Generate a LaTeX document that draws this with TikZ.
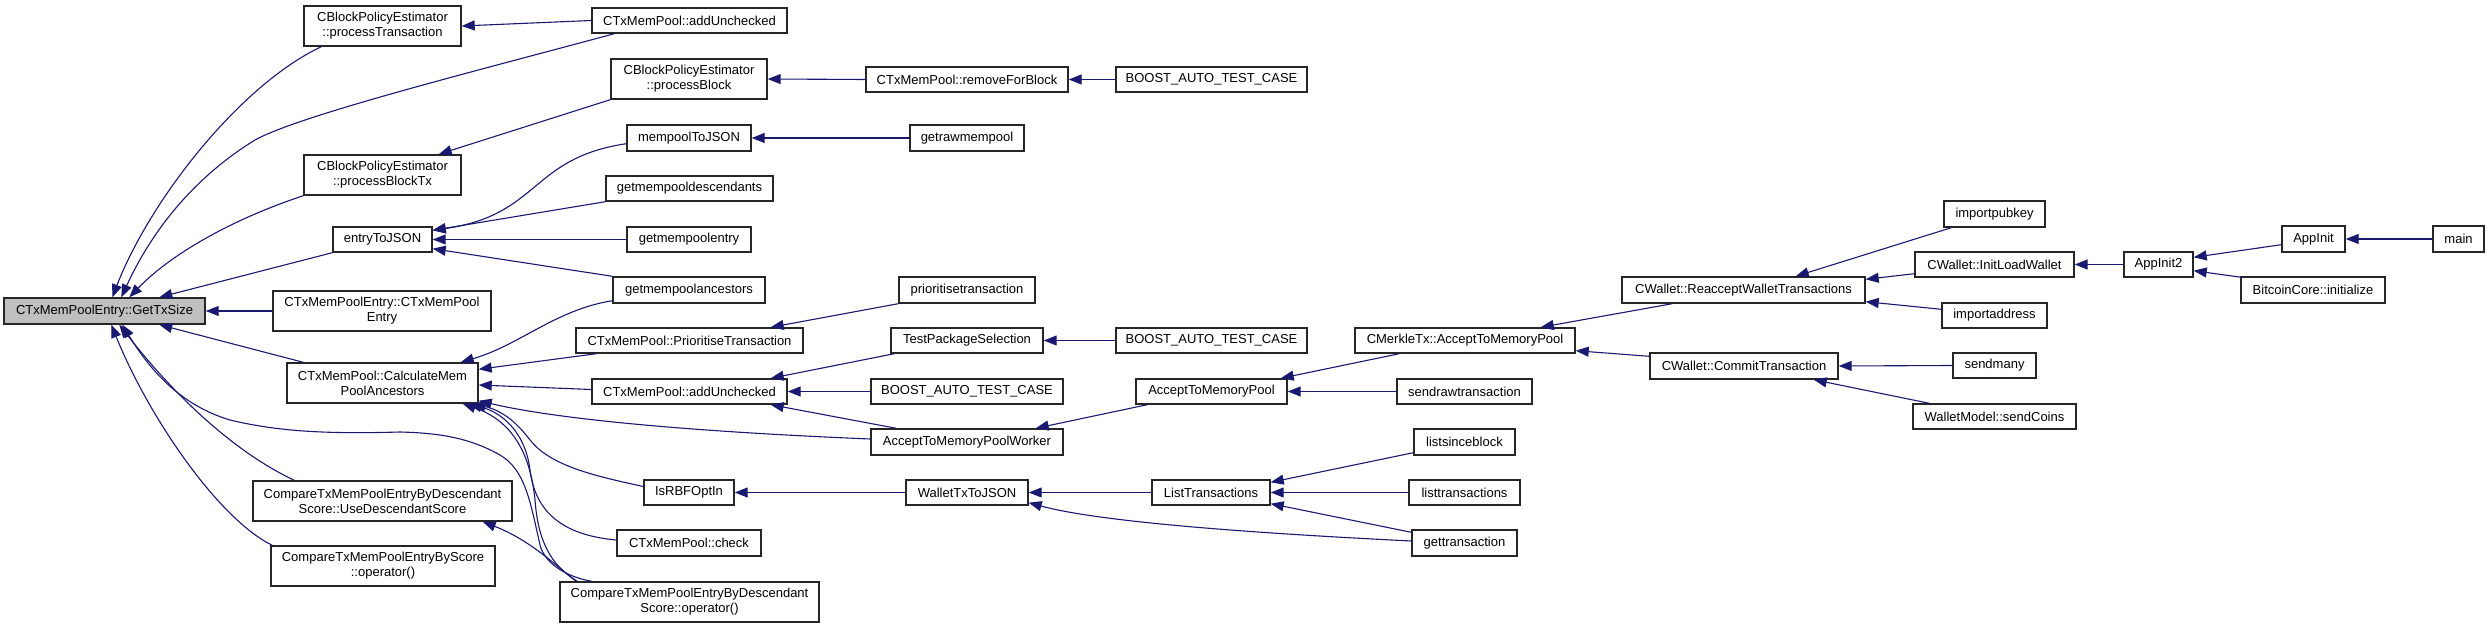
\documentclass[tikz,border=0pt]{standalone}
\usepackage{fontspec}
\setmainfont{Liberation Sans}
\usetikzlibrary{arrows.meta,calc}
\definecolor{edgeblue}{HTML}{191970}
\definecolor{rootgray}{HTML}{BFBFBF}
\tikzset{
  nbox/.style={draw=black!85, line width=1.4pt, fill=white, inner sep=0pt, align=center,
    font=\fontsize{13}{15}\selectfont},
  edge/.style={draw=edgeblue, line width=1.1pt, -{Triangle[length=13pt,width=10pt]}},
}
\newcommand\nb[7][]{\node[nbox,#1,minimum width={(#5)-(#3)},minimum height={(#6)-(#4)}] (#2) at ({((#3)+(#5))/2},{((#4)+(#6))/2}) {#7};}
\begin{document}
\begin{tikzpicture}[x=1pt,y=-1pt]
\useasboundingbox (0,0) rectangle (2489,628);
% nodes
\nb[fill=rootgray]{gts}{4}{298}{205}{324}{CTxMemPoolEntry::GetTxSize}
\nb{ptx}{304}{6}{461}{46}{CBlockPolicyEstimator\\::processTransaction}
\nb{au1}{592}{8}{787}{33}{CTxMemPool::addUnchecked}
\nb{pbk}{611}{59}{767}{99}{CBlockPolicyEstimator\\::processBlock}
\nb{rfb}{866}{67}{1068}{92}{CTxMemPool::removeForBlock}
\nb{bo1}{1116}{67}{1307}{92}{BOOST\_AUTO\_TEST\_CASE}
\nb{pbt}{304}{155}{461}{195}{CBlockPolicyEstimator\\::processBlockTx}
\nb{m2j}{627}{125}{751}{151}{mempoolToJSON}
\nb{grm}{910}{125}{1024}{151}{getrawmempool}
\nb{gmd}{606}{176}{773}{201}{getmempooldescendants}
\nb{e2j}{333}{227}{432}{252}{entryToJSON}
\nb{gme}{627}{227}{751}{252}{getmempoolentry}
\nb{gma}{613}{277}{765}{303}{getmempoolancestors}
\nb{pri}{899}{277}{1035}{303}{prioritisetransaction}
\nb{ctor}{273}{291}{491}{331}{CTxMemPoolEntry::CTxMemPool\\Entry}
\nb{prt}{576}{328}{803}{353}{CTxMemPool::PrioritiseTransaction}
\nb{tps}{891}{328}{1043}{353}{TestPackageSelection}
\nb{bo2}{1116}{328}{1307}{353}{BOOST\_AUTO\_TEST\_CASE}
\nb{cmx}{1355}{328}{1575}{353}{CMerkleTx::AcceptToMemoryPool}
\nb{cal}{287}{363}{478}{403}{CTxMemPool::CalculateMem\\PoolAncestors}
\nb{au2}{592}{379}{787}{404}{CTxMemPool::addUnchecked}
\nb{bo3}{871}{379}{1063}{404}{BOOST\_AUTO\_TEST\_CASE}
\nb{atm}{1136}{379}{1287}{404}{AcceptToMemoryPool}
\nb{srt}{1397}{379}{1532}{404}{sendrawtransaction}
\nb{atw}{871}{429}{1063}{455}{AcceptToMemoryPoolWorker}
\nb{lsb}{1414}{429}{1515}{455}{listsinceblock}
\nb{rbf}{644}{480}{734}{505}{IsRBFOptIn}
\nb{w2j}{906}{480}{1028}{505}{WalletTxToJSON}
\nb{ltx}{1152}{480}{1270}{505}{ListTransactions}
\nb{ltr}{1409}{480}{1520}{505}{listtransactions}
\nb{uds}{253}{481}{512}{521}{CompareTxMemPoolEntryByDescendant\\Score::UseDescendantScore}
\nb{chk}{617}{530}{761}{556}{CTxMemPool::check}
\nb{gtx}{1412}{530}{1517}{556}{gettransaction}
\nb{sco}{271}{546}{495}{586}{CompareTxMemPoolEntryByScore\\::operator()}
\nb{dso}{560}{582}{819}{622}{CompareTxMemPoolEntryByDescendant\\Score::operator()}
\nb{rwt}{1622}{277}{1865}{303}{CWallet::ReacceptWalletTransactions}
\nb{cmt}{1650}{353}{1838}{379}{CWallet::CommitTransaction}
\nb{ipk}{1944}{201}{2045}{227}{importpubkey}
\nb{ilw}{1915}{252}{2074}{277}{CWallet::InitLoadWallet}
\nb{iad}{1942}{303}{2047}{328}{importaddress}
\nb{smn}{1953}{353}{2036}{378}{sendmany}
\nb{wsc}{1913}{404}{2076}{429}{WalletModel::sendCoins}
\nb{ai2}{2124}{252}{2193}{277}{AppInit2}
\nb{ain}{2282}{226}{2345}{252}{AppInit}
\nb{bci}{2241}{277}{2385}{303}{BitcoinCore::initialize}
\nb{mai}{2433}{226}{2484}{252}{main}
% edges into GetTxSize
\draw[edge] ($(ptx.south west)+(18,0)$) .. controls (240,85) and (150,200) .. ($(gts.north west)+(109,0)$);
\draw[edge] ($(au1.south west)+(23,0)$) .. controls (480,70) and (300,115) .. (255,140) .. controls (190,180) and (150,235) .. ($(gts.north west)+(118,0)$);
\draw[edge] (pbt.south west) .. controls (230,220) and (170,255) .. ($(gts.north west)+(126,0)$);
\draw[edge] (e2j.south west) -- ($(gts.north west)+(156,0)$);
\draw[edge] (ctor.west) -- (gts.east);
\draw[edge] ($(cal.north west)+(17,0)$) -- ($(gts.south west)+(156,0)$);
\draw[edge] ($(dso.north west)+(33,0)$) .. controls (570,578) and (545,565) .. (540,545) .. controls (530,500) and (525,470) .. (500,455) .. controls (470,438) and (440,433) .. (400,432) .. controls (330,434) and (280,432) .. (230,420) .. controls (180,405) and (150,370) .. ($(gts.south west)+(119,0)$);
\draw[edge] ($(uds.north west)+(42,0)$) .. controls (230,450) and (170,390) .. ($(gts.south west)+(116,0)$);
\draw[edge] ($(sco.north west)+(2,0)$) .. controls (220,520) and (150,420) .. ($(gts.south west)+(108,0)$);
% column 2/3
\draw[edge] (au1.west) -- (ptx.east);
\draw[edge] (pbk.south west) -- ($(pbt.north east)+(-23,0)$);
\draw[edge] (rfb.west) -- (pbk.east);
\draw[edge] (bo1.west) -- (rfb.east);
\draw[edge] ($(m2j.south west)+(0,-8)$) .. controls (530,158) and (540,215) .. ($(e2j.north east)+(0,4)$);
\draw[edge] (gmd.south west) -- ($(e2j.north east)+(0,4)$);
\draw[edge] (gme.west) -- (e2j.east);
\draw[edge] (gma.north west) -- ($(e2j.south east)+(0,-4)$);
\draw[edge] (grm.west) -- (m2j.east);
\draw[edge] ($(gma.south west)+(0,-3)$) .. controls (555,310) and (520,345) .. ($(cal.north east)+(-18,0)$);
\draw[edge] ($(prt.south west)+(21,0)$) -- ($(cal.north east)+(0,7)$);
\draw[edge] ($(au2.west)+(0,-2)$) -- ($(cal.east)+(0,2)$);
\draw[edge] ($(atw.west)+(0,-3)$) .. controls (700,432) and (560,420) .. ($(cal.south east)+(0,-3)$);
\draw[edge] ($(rbf.west)+(0,-6)$) .. controls (590,475) and (550,465) .. (530,440) .. controls (515,420) and (500,410) .. ($(cal.south east)+(-6,0)$);
\draw[edge] ($(chk.west)+(0,-3)$) .. controls (560,535) and (535,510) .. (530,470) .. controls (525,430) and (500,412) .. ($(cal.south east)+(-10,0)$);
\draw[edge] ($(dso.north west)+(18,0)$) .. controls (550,565) and (538,540) .. (535,500) .. controls (530,450) and (510,420) .. ($(cal.south east)+(-16,0)$);
\draw[edge] ($(dso.north west)+(17,0)$) .. controls (555,565) and (530,540) .. ($(uds.south east)+(-30,0)$);
% column 4/5
\draw[edge] (pri.south west) -- ($(prt.north east)+(-33,0)$);
\draw[edge] ($(tps.south west)+(4,0)$) -- ($(au2.north east)+(-17,0)$);
\draw[edge] (bo3.west) -- (au2.east);
\draw[edge] ($(atw.north west)+(26,0)$) -- ($(au2.south east)+(-17,0)$);
\draw[edge] (bo2.west) -- (tps.east);
\draw[edge] ($(atm.south west)+(12,0)$) -- ($(atw.north east)+(-28,0)$);
\draw[edge] ($(cmx.south west)+(45,0)$) -- ($(atm.north east)+(-7,0)$);
\draw[edge] (srt.west) -- (atm.east);
\draw[edge] (w2j.west) -- (rbf.east);
\draw[edge] (ltx.west) -- (w2j.east);
\draw[edge] ($(gtx.west)+(0,-2)$) .. controls (1250,533) and (1100,522) .. ($(w2j.south east)+(0,-3)$);
\draw[edge] ($(lsb.south west)+(0,-3)$) -- ($(ltx.north east)+(0,3)$);
\draw[edge] (ltr.west) -- (ltx.east);
\draw[edge] ($(gtx.north west)+(0,3)$) -- ($(ltx.south east)+(0,-2)$);
% wallet side
\draw[edge] ($(rwt.south west)+(51,0)$) -- ($(cmx.north east)+(-35,0)$);
\draw[edge] ($(cmt.north west)+(0,4)$) -- ($(cmx.south east)+(0,-3)$);
\draw[edge] ($(ipk.south west)+(8,0)$) -- ($(rwt.north east)+(-70,0)$);
\draw[edge] ($(ilw.south west)+(0,-4)$) -- ($(rwt.north east)+(0,3)$);
\draw[edge] ($(iad.north west)+(0,7)$) -- ($(rwt.south east)+(0,-2)$);
\draw[edge] (smn.west) -- (cmt.east);
\draw[edge] ($(wsc.north west)+(17,0)$) -- ($(cmt.south east)+(-25,0)$);
\draw[edge] (ai2.west) -- (ilw.east);
\draw[edge] ($(ain.south west)+(0,-8)$) -- ($(ai2.north east)+(0,6)$);
\draw[edge] ($(bci.north west)+(1,1)$) -- ($(ai2.south east)+(0,-7)$);
\draw[edge] (mai.west) -- (ain.east);
\end{tikzpicture}
\end{document}
